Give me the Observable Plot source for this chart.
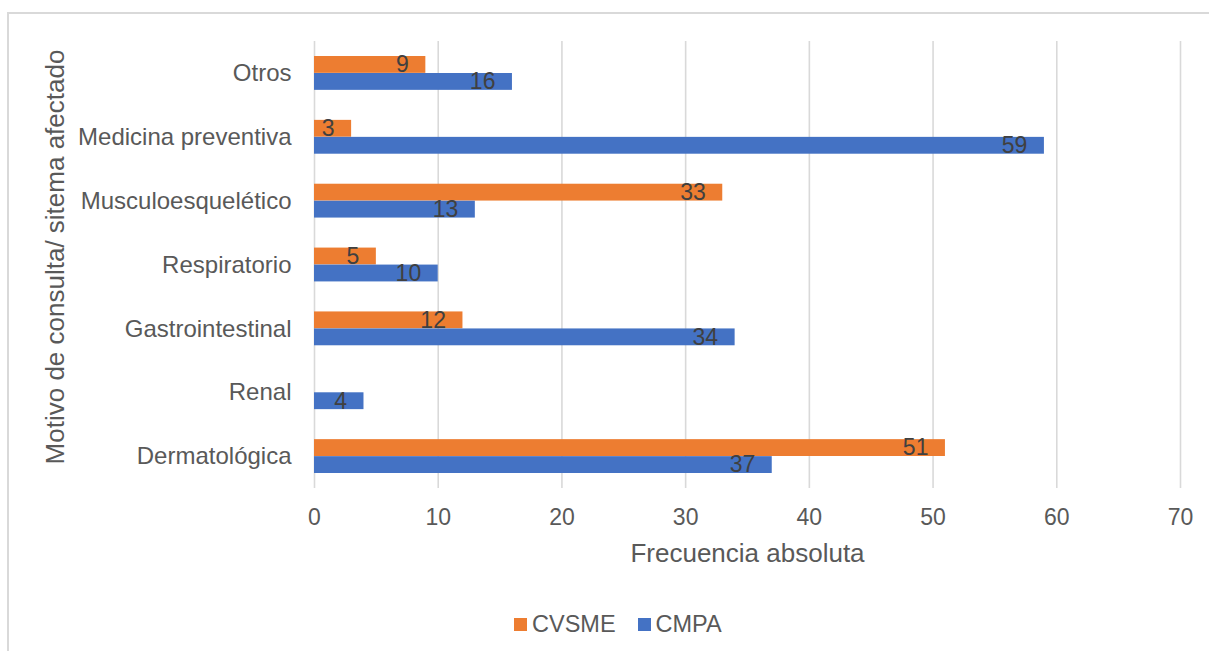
<!DOCTYPE html>
<html>
<head>
<meta charset="utf-8">
<script src="https://cdn.jsdelivr.net/npm/d3@7"></script>
<script src="https://cdn.jsdelivr.net/npm/@observablehq/plot@0.6"></script>
<style>
  html, body { margin: 0; padding: 0; background: #fff; }
  body { width: 1209px; height: 651px; overflow: hidden; position: relative; font-family: "Liberation Sans", Arial, sans-serif; }
  #frame { position: absolute; left: 7px; top: 12px; width: 1300px; height: 700px; border: 2px solid #d9d9d9; box-sizing: border-box; }
  #chart { position: absolute; left: 0; top: 0; }
  #legend { position: absolute; top: 611px; left: 514px; display: flex; align-items: center; font-size: 23.5px; color: #595959; white-space: nowrap; }
  .item { display: flex; align-items: center; margin-right: 22px; }
  .sw { width: 13px; height: 13px; margin-right: 5px; }
</style>
</head>
<body>
<div id="frame"></div>
<div id="chart"></div>
<div id="legend"></div>
<script>
const categories = ["Otros", "Medicina preventiva", "Musculoesquelético", "Respiratorio", "Gastrointestinal", "Renal", "Dermatológica"];
const cvsme = [9, 3, 33, 5, 12, 0, 51];
const cmpa = [16, 59, 13, 10, 34, 4, 37];
const seriesNames = ["CVSME", "CMPA"];
const seriesColors = ["#ED7D31", "#4472C4"];
const xTicks = [0, 10, 20, 30, 40, 50, 60, 70];

const dataCVSME = categories.map((c, i) => ({cat: c, value: cvsme[i]}));
const dataCMPA = categories.map((c, i) => ({cat: c, value: cmpa[i]}));

const chart = Plot.plot({
  width: 1209,
  height: 595,
  marginLeft: 314,
  marginRight: 29,
  marginTop: 41,
  marginBottom: 107,
  style: {fontFamily: "Liberation Sans, Arial, sans-serif", background: "transparent", color: "#595959"},
  x: {domain: [0, 70], ticks: xTicks},
  y: {domain: categories, paddingInner: 0.47, paddingOuter: 0.235, round: false},
  marks: [
    Plot.gridX(xTicks, {stroke: "#d9d9d9", strokeOpacity: 1, strokeWidth: 1.6}),
    Plot.barX(dataCVSME.filter(d => d.value > 0), {x: "value", y: "cat", fill: seriesColors[0], insetBottom: 17}),
    Plot.barX(dataCMPA, {x: "value", y: "cat", fill: seriesColors[1], insetTop: 17}),
    Plot.text(dataCVSME.filter(d => d.value > 0), {x: "value", y: "cat", text: d => String(d.value), textAnchor: "end", dx: -17, dy: -8.5, fontSize: 23, fill: "#404040"}),
    Plot.text(dataCMPA, {x: "value", y: "cat", text: d => String(d.value), textAnchor: "end", dx: -17, dy: 8.5, fontSize: 23, fill: "#404040"}),
    Plot.axisX({ticks: xTicks, tickSize: 0, tickPadding: 20, fontSize: 23, label: "Frecuencia absoluta", labelAnchor: "center", labelOffset: 73, labelArrow: "none"}),
    Plot.axisY({tickSize: 0, tickPadding: 23, fontSize: 24, label: "Motivo de consulta/ sitema afectado", labelAnchor: "center", labelOffset: 269, labelArrow: "none"})
  ]
});
d3.select(chart).selectAll("g[aria-label='x-axis label'] text, g[aria-label='y-axis label'] text").style("font-size", "26px");
d3.select(chart).selectAll("g[aria-label='y-axis label']").each(function() {
  const g = d3.select(this);
  g.attr("transform", "translate(0,-8) " + (g.attr("transform") || ""));
});
document.getElementById("chart").appendChild(chart);

const legend = document.getElementById("legend");
seriesNames.forEach((name, i) => {
  const it = document.createElement("div");
  it.className = "item";
  const sw = document.createElement("div");
  sw.className = "sw";
  sw.style.background = seriesColors[i];
  const t = document.createElement("span");
  t.textContent = name;
  it.appendChild(sw); it.appendChild(t);
  legend.appendChild(it);
});
</script>
</body>
</html>
